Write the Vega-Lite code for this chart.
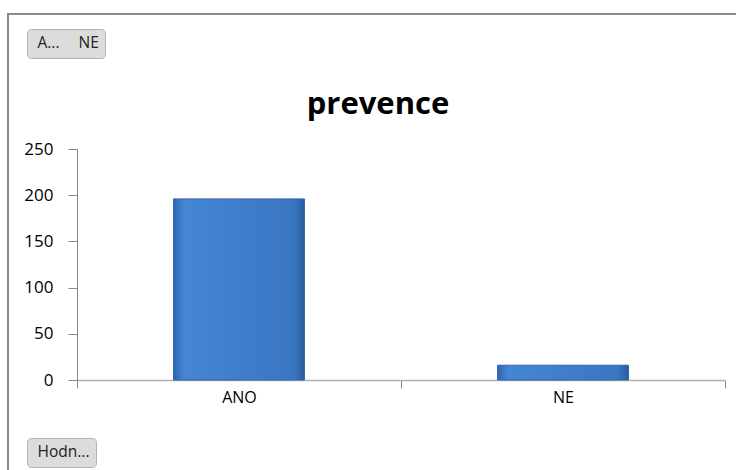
{
  "$schema": "https://vega.github.io/schema/vega-lite/v6.json",
  "autosize": "none",
  "padding": {"left": 8, "top": 14, "right": 0, "bottom": 0},
  "width": 740,
  "height": 470,
  "background": "white",
  "view": {"stroke": "#8a8a8a", "strokeWidth": 2, "fill": "white"},
  "title": {
    "text": "prevence",
    "anchor": "middle",
    "frame": "group",
    "font": "Open Sans",
    "fontSize": 31,
    "fontWeight": "bold",
    "color": "#000000",
    "offset": -107
  },
  "data": {
    "values": [
      {"kat": "ANO", "pocet": 196, "pole": "Hodnota"},
      {"kat": "NE", "pocet": 16, "pole": "Hodnota"}
    ]
  },
  "mark": {
    "type": "bar",
    "width": {"band": 0.404},
    "fill": {
      "gradient": "linear",
      "x1": 0, "y1": 0, "x2": 1, "y2": 0,
      "stops": [
        {"offset": 0, "color": "#2f67b0"},
        {"offset": 0.08, "color": "#4586d4"},
        {"offset": 0.5, "color": "#3f7ecc"},
        {"offset": 0.92, "color": "#3a76c2"},
        {"offset": 1, "color": "#2a5c9e"}
      ]
    },
    "strokeWidth": 1
  },
  "encoding": {
    "x": {
      "field": "kat",
      "type": "nominal",
      "sort": ["ANO", "NE"],
      "scale": {"range": [69, 717], "paddingInner": 0, "paddingOuter": 0},
      "axis": {
        "title": null,
        "offset": -104,
        "labelAngle": 0,
        "tickBand": "extent",
        "tickSize": 8,
        "tickColor": "#888888",
        "domainColor": "#b0b0b0",
        "domainWidth": 1.5,
        "labelPadding": 1,
        "labelFont": "Open Sans",
        "labelFontSize": 16,
        "labelColor": "#000000"
      }
    },
    "y": {
      "field": "pocet",
      "type": "quantitative",
      "scale": {"domain": [0, 250], "range": [366, 135], "nice": false},
      "axis": {
        "title": null,
        "offset": -69,
        "values": [0, 50, 100, 150, 200, 250],
        "grid": false,
        "tickSize": 9,
        "tickColor": "#888888",
        "domainColor": "#888888",
        "labelPadding": 15,
        "labelFont": "Open Sans",
        "labelFontSize": 17,
        "labelColor": "#000000"
      }
    },
    "opacity": {
      "field": "kat",
      "type": "nominal",
      "sort": ["ANO", "NE"],
      "scale": {"range": [1, 1]},
      "legend": {
        "title": null,
        "orient": "none",
        "legendX": 19,
        "legendY": 15,
        "direction": "horizontal",
        "symbolSize": 0,
        "symbolOpacity": 0,
        "symbolStrokeWidth": 0,
        "labelOffset": -11,
        "columnPadding": 14,
        "labelExpr": "datum.label == 'ANO' ? 'A...' : datum.label",
        "labelFont": "Open Sans",
        "labelFontSize": 15.5,
        "labelColor": "#222222",
        "fillColor": "#dcdcdc",
        "strokeColor": "#b4b4b4",
        "cornerRadius": 4,
        "padding": 6
      }
    },
    "stroke": {
      "field": "pole",
      "type": "nominal",
      "scale": {"range": ["#3264a6"]},
      "legend": {
        "title": null,
        "orient": "none",
        "legendX": 19,
        "legendY": 424,
        "symbolSize": 0,
        "symbolOpacity": 0,
        "symbolStrokeWidth": 0,
        "labelOffset": -11,
        "labelExpr": "'Hodn...'",
        "labelFont": "Open Sans",
        "labelFontSize": 15.5,
        "labelColor": "#222222",
        "fillColor": "#dcdcdc",
        "strokeColor": "#b4b4b4",
        "cornerRadius": 4,
        "padding": 6
      }
    }
  }
}
